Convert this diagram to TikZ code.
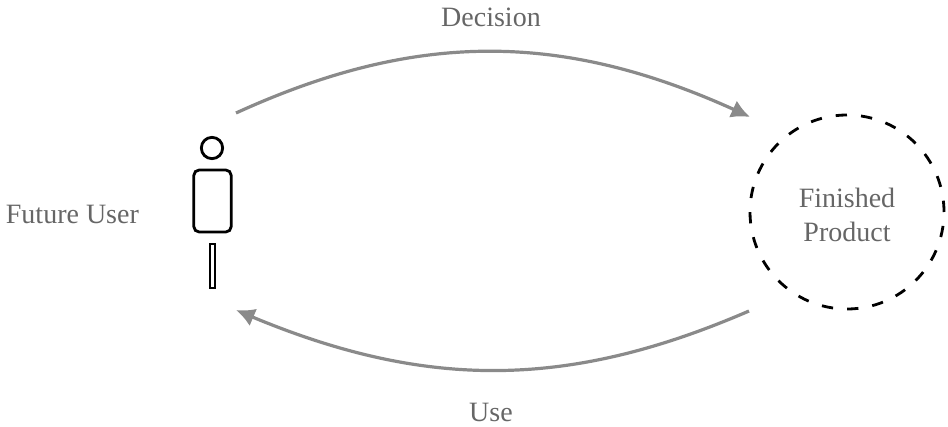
\documentclass[tikz,border=0pt]{standalone}
\usepackage{fontspec}
\setmainfont{Liberation Serif}
\usepackage{xcolor}
\usetikzlibrary{arrows.meta,bending,positioning,calc}
\definecolor{ink}{HTML}{000000}
\definecolor{label}{HTML}{666666}
\definecolor{flow}{HTML}{8A8A8A}
\tikzset{
  every picture/.style={line width=2.1pt, draw=ink},
  caption/.style={font=\fontsize{21}{26}\selectfont, text=label, align=center, inner sep=0pt},
  figure/.style={draw=ink, inner sep=0pt, outer sep=0pt},
  cycle/.style={-{Latex[length=14pt, width=14pt, flex=1]}, draw=flow, line width=2.4pt},
}
\begin{document}
\begin{tikzpicture}[x=0.75pt, y=0.75pt]
\useasboundingbox (0,0) rectangle (948,426);
% the person
\node[figure, circle, minimum size=16pt] (head) at (212,278) {};
\node[figure, rounded corners=4pt, minimum width=28pt, minimum height=46.5pt] (body) at (212.5,225) {};
\node[figure, minimum width=3.75pt, minimum height=33pt] (leg) at (212.5,160) {};
\node[caption, anchor=west] (user) at (4.5,212) {Future User};
% the product
\node[figure, circle, dash pattern=on 8.5pt off 10.55pt, minimum size=145.5pt] (product) at (847,214) {};
\node[caption] (productname) at (847,211) {Finished\\Product};
% where the arcs end
\coordinate (decisionstart) at ($(body)+(23.5,88)$);
\coordinate (decisionend) at ($(product)+(-97,95)$);
\coordinate (usestart) at ($(product)+(-98,-99)$);
\coordinate (useend) at ($(body)+(23.5,-109)$);
\draw[cycle, bend left=25] (decisionstart) to (decisionend);
\draw[cycle, bend left=23.5] (usestart) to (useend);
\node[caption] (decision) at (491,409) {Decision};
\node[caption] (use) at (491,14) {Use};
\end{tikzpicture}
\end{document}
